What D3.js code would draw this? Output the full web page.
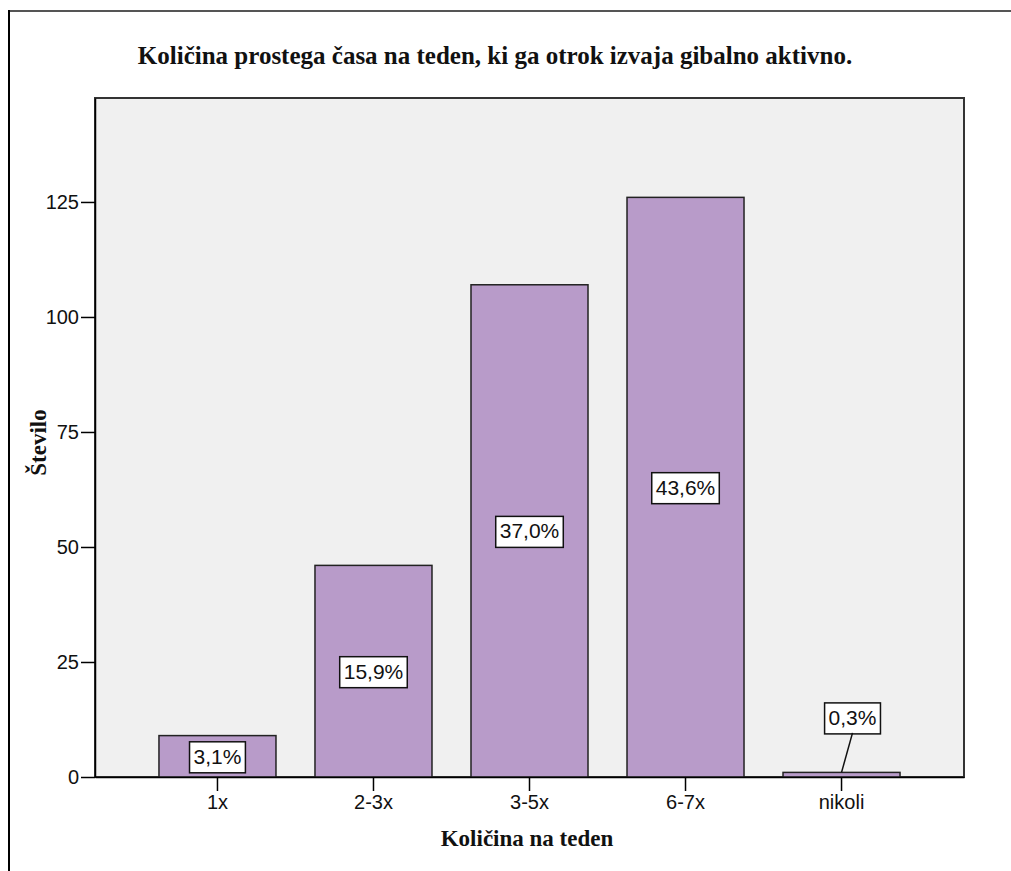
<!DOCTYPE html>
<html>
<head>
<meta charset="utf-8">
<script src="https://cdn.jsdelivr.net/npm/d3@7"></script>
<style>
  html, body { margin: 0; padding: 0; background: #fff; }
  svg { display: block; }
</style>
</head>
<body>
<svg id="chart" width="1011" height="871"></svg>
<script>
const categories = ["1x", "2-3x", "3-5x", "6-7x", "nikoli"];
const counts = [9, 46, 107, 126, 1];
const percentLabels = ["3,1%", "15,9%", "37,0%", "43,6%", "0,3%"];
const yTicks = [0, 25, 50, 75, 100, 125];
const yMax = 147.6;

const titleText = "Količina prostega časa na teden, ki ga otrok izvaja gibalno aktivno.";
const xTitle = "Količina na teden";
const yTitle = "Število";

const W = 1011, H = 871;
const plot = { left: 95, right: 964, top: 98, bottom: 777 };
const sans = "'Liberation Sans', Arial, Helvetica, sans-serif";
const serif = "'Liberation Serif', 'Times New Roman', Times, serif";

const svg = d3.select("#chart");
svg.append("rect").attr("width", W).attr("height", H).attr("fill", "#fff");

// outer frame
svg.append("line").attr("x1", 9).attr("x2", W).attr("y1", 11).attr("y2", 11)
  .attr("stroke", "#555").attr("stroke-width", 2);
svg.append("line").attr("x1", 9).attr("x2", 9).attr("y1", 10).attr("y2", H)
  .attr("stroke", "#000").attr("stroke-width", 2);

const x = d3.scaleBand().domain(categories)
  .range([plot.left, plot.right]).paddingInner(0.25).paddingOuter(0.41);
const y = d3.scaleLinear().domain([0, yMax]).range([plot.bottom, plot.top]);

// plot background
svg.append("rect")
  .attr("x", plot.left).attr("y", plot.top)
  .attr("width", plot.right - plot.left).attr("height", plot.bottom - plot.top)
  .attr("fill", "#f0f0f0").attr("stroke", "#333").attr("stroke-width", 2);

// bars
svg.append("g").selectAll("rect").data(categories).join("rect")
  .attr("x", d => x(d))
  .attr("y", (d, i) => y(counts[i]))
  .attr("width", x.bandwidth())
  .attr("height", (d, i) => y(0) - y(counts[i]))
  .attr("fill", "#b89bc9")
  .attr("stroke", "#222").attr("stroke-width", 1.5);

// axes
const yAxis = d3.axisLeft(y).tickValues(yTicks).tickSize(14).tickSizeOuter(0).tickPadding(2).tickFormat(d3.format("d"));
const gy = svg.append("g").attr("transform", `translate(${plot.left},0)`).call(yAxis);
gy.select(".domain").attr("stroke", "#000").attr("stroke-width", 1.5);
gy.selectAll(".tick line").attr("stroke", "#000").attr("stroke-width", 1.5);
gy.selectAll(".tick text").attr("font-family", sans).attr("font-size", 20).attr("fill", "#111");

const xAxis = d3.axisBottom(x).tickSize(14).tickPadding(4).tickSizeOuter(0);
const gx = svg.append("g").attr("transform", `translate(0,${plot.bottom})`).call(xAxis);
gx.select(".domain").attr("stroke", "#000").attr("stroke-width", 1.5);
gx.selectAll(".tick line").attr("stroke", "#000").attr("stroke-width", 1.5);
gx.selectAll(".tick text").attr("font-family", sans).attr("font-size", 20).attr("fill", "#111");

// percent labels
const lab = svg.append("g");
categories.forEach((c, i) => {
  const cx0 = x(c) + x.bandwidth() / 2;
  const mid = (y(counts[i]) + y(0)) / 2;
  let cx = cx0, cy = mid;
  const small = (y(0) - y(counts[i])) < 34;
  if (small) { cx = cx0 + 11; cy = y(counts[i]) - 55; }
  const t = lab.append("text").attr("x", cx).attr("y", cy)
    .attr("text-anchor", "middle").attr("dominant-baseline", "central")
    .attr("font-family", sans).attr("font-size", 21).attr("fill", "#111")
    .text(percentLabels[i]);
  const w = t.node().getComputedTextLength() + 8;
  const h = 31;
  if (small) {
    lab.append("line").attr("x1", cx).attr("y1", cy + h / 2).attr("x2", cx0).attr("y2", y(counts[i]))
      .attr("stroke", "#111").attr("stroke-width", 1.5);
  }
  lab.insert("rect", "text")
    .attr("x", cx - w / 2).attr("y", cy - h / 2 + 1).attr("width", w).attr("height", h)
    .attr("fill", "#fff").attr("stroke", "#111").attr("stroke-width", 1.5);
});

// titles
svg.append("text").attr("x", 495).attr("y", 64).attr("text-anchor", "middle")
  .attr("font-family", serif).attr("font-weight", "bold").attr("font-size", 25)
  .attr("fill", "#111").text(titleText);
svg.append("text").attr("x", 527).attr("y", 846).attr("text-anchor", "middle")
  .attr("font-family", serif).attr("font-weight", "bold").attr("font-size", 23)
  .attr("fill", "#111").text(xTitle);
svg.append("text").attr("transform", `translate(46,${(plot.top + plot.bottom) / 2 + 5}) rotate(-90)`)
  .attr("text-anchor", "middle")
  .attr("font-family", serif).attr("font-weight", "bold").attr("font-size", 23)
  .attr("fill", "#111").text(yTitle);
</script>
</body>
</html>
